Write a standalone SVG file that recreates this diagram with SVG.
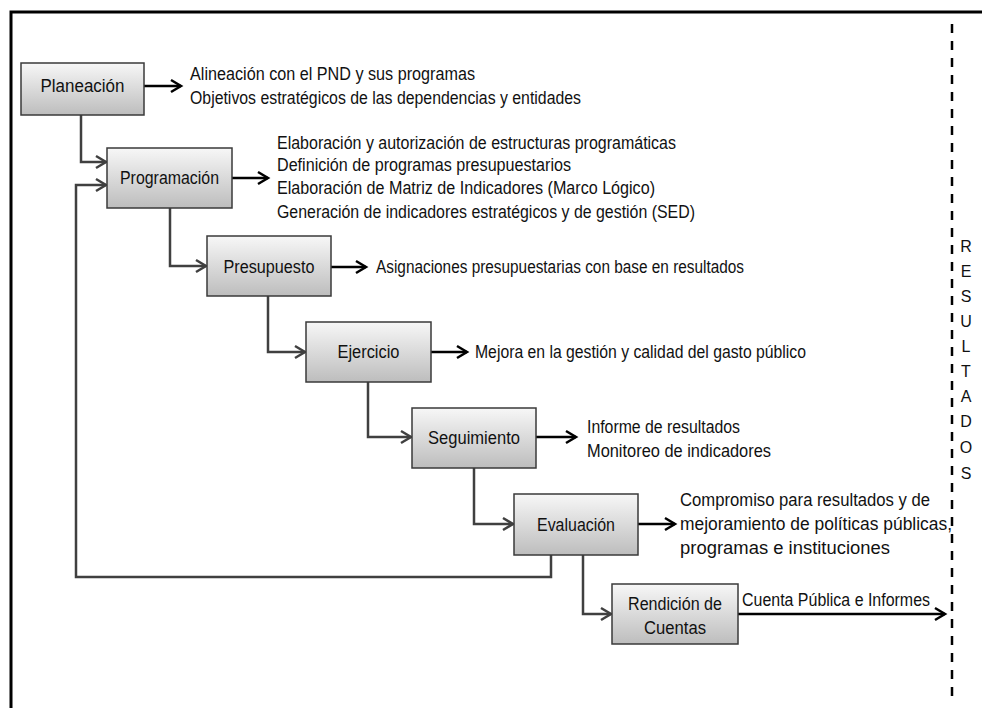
<svg xmlns="http://www.w3.org/2000/svg" width="982" height="708" viewBox="0 0 982 708">
<style>
.box{stroke:#3a3a3a;stroke-width:1.5;fill:url(#g)}
.lbl{font-family:"Liberation Sans Narrow","Liberation Sans",Arial,sans-serif;font-size:17.5px;fill:#111;text-anchor:middle;dominant-baseline:central}
.t{font-family:"Liberation Sans Narrow","Liberation Sans",Arial,sans-serif;font-size:17.5px;fill:#111;dominant-baseline:central}
.v{font-family:"Liberation Sans",Arial,sans-serif;font-size:16px;fill:#111;text-anchor:middle;dominant-baseline:central}
.c{fill:none;stroke:#404040;stroke-width:2.5;marker-end:url(#ag)}
.o{fill:none;stroke:#000;stroke-width:2.5;marker-end:url(#ab)}
</style>
<defs>
<linearGradient id="g" x1="0" y1="0" x2="0" y2="1">
<stop offset="0" stop-color="#f7f7f7"/>
<stop offset="1" stop-color="#bdbdbd"/>
</linearGradient>
<marker id="ag" markerUnits="userSpaceOnUse" markerWidth="16" markerHeight="16" refX="13" refY="8" orient="auto">
<path d="M3,2 L13,8 L3,14" fill="none" stroke="#404040" stroke-width="2.5"/>
</marker>
<marker id="ab" markerUnits="userSpaceOnUse" markerWidth="16" markerHeight="16" refX="13" refY="8" orient="auto">
<path d="M3,2 L13,8 L3,14" fill="none" stroke="#000" stroke-width="2.5"/>
</marker>
</defs>
<rect width="982" height="708" fill="#fff"/>
<path d="M11,708 V12 H982" fill="none" stroke="#000" stroke-width="3"/>
<line x1="952" y1="24" x2="952" y2="700" stroke="#000" stroke-width="2.5" stroke-dasharray="9 8"/>
<g id="connectors">
<path class="c" d="M81,115 V162 H106"/>
<path class="c" d="M551,555 V577 H76 V185 H106"/>
<path class="c" d="M170,208 V266 H206"/>
<path class="c" d="M268,296 V352 H305"/>
<path class="c" d="M368,382 V437 H411"/>
<path class="c" d="M474,468 V524 H513"/>
<path class="c" d="M583,555 V614 H611"/>
<path class="o" d="M144,86 H181"/>
<path class="o" d="M232,178 H268"/>
<path class="o" d="M331,267 H366"/>
<path class="o" d="M431,352 H467"/>
<path class="o" d="M536,437 H576"/>
<path class="o" d="M638,524 H675"/>
<path class="o" d="M738,614 H945"/>
</g>
<g id="planeacion">
<rect class="box" x="21" y="63" width="123" height="52"/>
<text class="lbl" x="82.5" y="86" textLength="84" lengthAdjust="spacingAndGlyphs">Planeación</text>
<text class="t" x="190" y="74" textLength="285" lengthAdjust="spacingAndGlyphs">Alineación con el PND y sus programas</text>
<text class="t" x="190" y="98" textLength="391" lengthAdjust="spacingAndGlyphs">Objetivos estratégicos de las dependencias y entidades</text>
</g>
<g id="programacion">
<rect class="box" x="107" y="148" width="125" height="60"/>
<text class="lbl" x="169.5" y="178" textLength="99" lengthAdjust="spacingAndGlyphs">Programación</text>
<text class="t" x="277" y="143" textLength="399" lengthAdjust="spacingAndGlyphs">Elaboración y autorización de estructuras programáticas</text>
<text class="t" x="277" y="165" textLength="294" lengthAdjust="spacingAndGlyphs">Definición de programas presupuestarios</text>
<text class="t" x="277" y="188" textLength="378" lengthAdjust="spacingAndGlyphs">Elaboración de Matriz de Indicadores (Marco Lógico)</text>
<text class="t" x="277" y="212" textLength="418" lengthAdjust="spacingAndGlyphs">Generación de indicadores estratégicos y de gestión (SED)</text>
</g>
<g id="presupuesto">
<rect class="box" x="207" y="236" width="124" height="60"/>
<text class="lbl" x="269" y="267" textLength="91" lengthAdjust="spacingAndGlyphs">Presupuesto</text>
<text class="t" x="376" y="267" textLength="368" lengthAdjust="spacingAndGlyphs">Asignaciones presupuestarias con base en resultados</text>
</g>
<g id="ejercicio">
<rect class="box" x="306" y="322" width="125" height="60"/>
<text class="lbl" x="368.5" y="352" textLength="62" lengthAdjust="spacingAndGlyphs">Ejercicio</text>
<text class="t" x="475" y="352" textLength="331" lengthAdjust="spacingAndGlyphs">Mejora en la gestión y calidad del gasto público</text>
</g>
<g id="seguimiento">
<rect class="box" x="412" y="408" width="124" height="60"/>
<text class="lbl" x="474" y="438" textLength="92" lengthAdjust="spacingAndGlyphs">Seguimiento</text>
<text class="t" x="587" y="427" textLength="153" lengthAdjust="spacingAndGlyphs">Informe de resultados</text>
<text class="t" x="587" y="451" textLength="184" lengthAdjust="spacingAndGlyphs">Monitoreo de indicadores</text>
</g>
<g id="evaluacion">
<rect class="box" x="514" y="494" width="124" height="61"/>
<text class="lbl" x="576" y="525" textLength="78" lengthAdjust="spacingAndGlyphs">Evaluación</text>
<text class="t" x="680" y="500" textLength="250" lengthAdjust="spacingAndGlyphs">Compromiso para resultados y de</text>
<text class="t" x="680" y="524" textLength="272" lengthAdjust="spacingAndGlyphs">mejoramiento de políticas públicas,</text>
<text class="t" x="680" y="548" textLength="210" lengthAdjust="spacingAndGlyphs">programas e instituciones</text>
</g>
<g id="rendicion">
<rect class="box" x="612" y="584" width="126" height="60"/>
<text class="lbl" x="675" y="604" textLength="94" lengthAdjust="spacingAndGlyphs">Rendición de</text>
<text class="lbl" x="675" y="628" textLength="62" lengthAdjust="spacingAndGlyphs">Cuentas</text>
<text class="t" x="742" y="600" textLength="188" lengthAdjust="spacingAndGlyphs">Cuenta Pública e Informes</text>
</g>
<g id="resultados">
<text class="v" x="966" y="246">R</text>
<text class="v" x="966" y="271">E</text>
<text class="v" x="966" y="296">S</text>
<text class="v" x="966" y="321">U</text>
<text class="v" x="966" y="346">L</text>
<text class="v" x="966" y="371">T</text>
<text class="v" x="966" y="396">A</text>
<text class="v" x="966" y="421">D</text>
<text class="v" x="966" y="447">O</text>
<text class="v" x="966" y="473">S</text>
</g>
</svg>
